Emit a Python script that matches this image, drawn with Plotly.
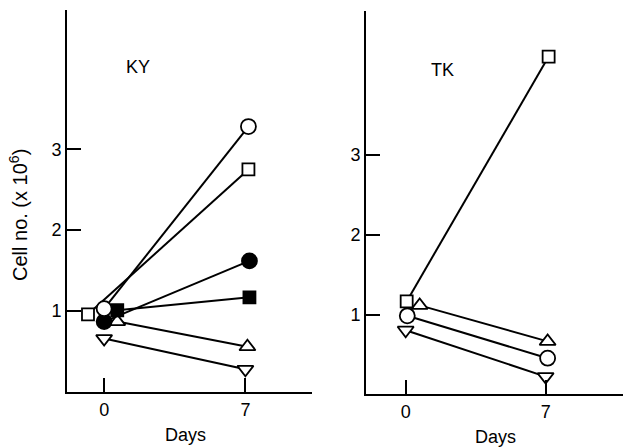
import plotly.graph_objects as go

# ---- data ----
# KY panel
ky_open_circle_x = [0.0, 7.15]
ky_open_circle_y = [1.03, 3.28]
ky_open_square_x = [-0.8, 7.15]
ky_open_square_y = [0.96, 2.75]
ky_filled_circle_x = [0.0, 7.2]
ky_filled_circle_y = [0.87, 1.62]
ky_filled_square_x = [0.65, 7.2]
ky_filled_square_y = [1.01, 1.17]
ky_tri_up_x = [0.65, 7.1]
ky_tri_up_y = [0.87, 0.56]
ky_tri_down_x = [0.0, 7.0]
ky_tri_down_y = [0.66, 0.28]

# TK panel
tk_open_square_x = [0.05, 7.15]
tk_open_square_y = [1.17, 4.23]
tk_tri_up_x = [0.7, 7.1]
tk_tri_up_y = [1.12, 0.67]
tk_open_circle_x = [0.08, 7.1]
tk_open_circle_y = [0.99, 0.46]
tk_tri_down_x = [0.0, 7.0]
tk_tri_down_y = [0.81, 0.23]

x_tickvals = [0, 7]
x_ticktext = ["0", "7"]
y_tickvals = [1, 2, 3]
y_ticktext = ["1", "2", "3"]
panel_labels = ["KY", "TK"]

FONT = "Liberation Sans, Arial, sans-serif"
BLACK = "black"

fig = go.Figure()


def add(x, y, symbol, filled, size, xa, ya):
    fig.add_trace(go.Scatter(
        x=x, y=y, mode="lines+markers", xaxis=xa, yaxis=ya,
        line=dict(color=BLACK, width=2),
        marker=dict(symbol=symbol, size=size,
                    color=BLACK if filled else "white",
                    line=dict(color=BLACK, width=1.8)),
        showlegend=False,
    ))


# KY
add(ky_tri_down_x, ky_tri_down_y, "triangle-down", False, 14, "x", "y")
add(ky_tri_up_x, ky_tri_up_y, "triangle-up", False, 14, "x", "y")
add(ky_filled_circle_x, ky_filled_circle_y, "circle", True, 15, "x", "y")
add(ky_filled_square_x, ky_filled_square_y, "square", True, 12, "x", "y")
add(ky_open_square_x, ky_open_square_y, "square", False, 12, "x", "y")
add(ky_open_circle_x, ky_open_circle_y, "circle", False, 15, "x", "y")

# TK
add(tk_tri_down_x, tk_tri_down_y, "triangle-down", False, 14, "x2", "y2")
add(tk_open_circle_x, tk_open_circle_y, "circle", False, 15, "x2", "y2")
add(tk_tri_up_x, tk_tri_up_y, "triangle-up", False, 14, "x2", "y2")
add(tk_open_square_x, tk_open_square_y, "square", False, 12, "x2", "y2")

base = dict(showgrid=False, zeroline=False, showline=True, linecolor=BLACK,
            linewidth=2, ticks="inside", ticklen=14, tickwidth=2,
            tickcolor=BLACK, automargin=False)
tfont = dict(family=FONT, size=18, color=BLACK)

fig.update_layout(
    template="none",
    width=623, height=448,
    margin=dict(l=0, r=0, t=0, b=0, pad=0, autoexpand=False),
    xaxis=dict(domain=[67 / 623, 312 / 623], range=[-1.84, 10.3],
               tickvals=x_tickvals, ticktext=x_ticktext, tickfont=tfont,
               anchor="y", **base),
    yaxis=dict(domain=[56 / 448, 438 / 448], range=[0, 4.72],
               tickvals=y_tickvals, ticktext=y_ticktext, tickfont=tfont,
               anchor="x", **base),
    xaxis2=dict(domain=[366 / 623, 1.0], range=[-1.985, 10.87],
                tickvals=x_tickvals, ticktext=x_ticktext, tickfont=tfont,
                anchor="y2", **base),
    yaxis2=dict(domain=[54 / 448, 437 / 448], range=[0.0125, 4.8],
                tickvals=y_tickvals, ticktext=y_ticktext, tickfont=tfont,
                anchor="x2", **base),
)

ann_font = dict(family=FONT, size=18, color=BLACK)


def label(px, py, text, size=18, angle=0):
    fig.add_annotation(x=px / 623, y=1 - py / 448, xref="paper", yref="paper",
                       xanchor="center", yanchor="middle", text=text,
                       showarrow=False, textangle=angle,
                       font=dict(family=FONT, size=size, color=BLACK))


label(138, 67, panel_labels[0])
label(442, 70, panel_labels[1])
label(185, 435, "Days")
label(495, 437, "Days")
label(18, 215, "Cell no. (x 10<sup>6</sup>)", size=20, angle=-90)

fig.write_html("out.html",
               config={"displayModeBar": False},
               post_script="document.body.style.margin='0';"
                           "document.body.style.overflow='hidden';")
